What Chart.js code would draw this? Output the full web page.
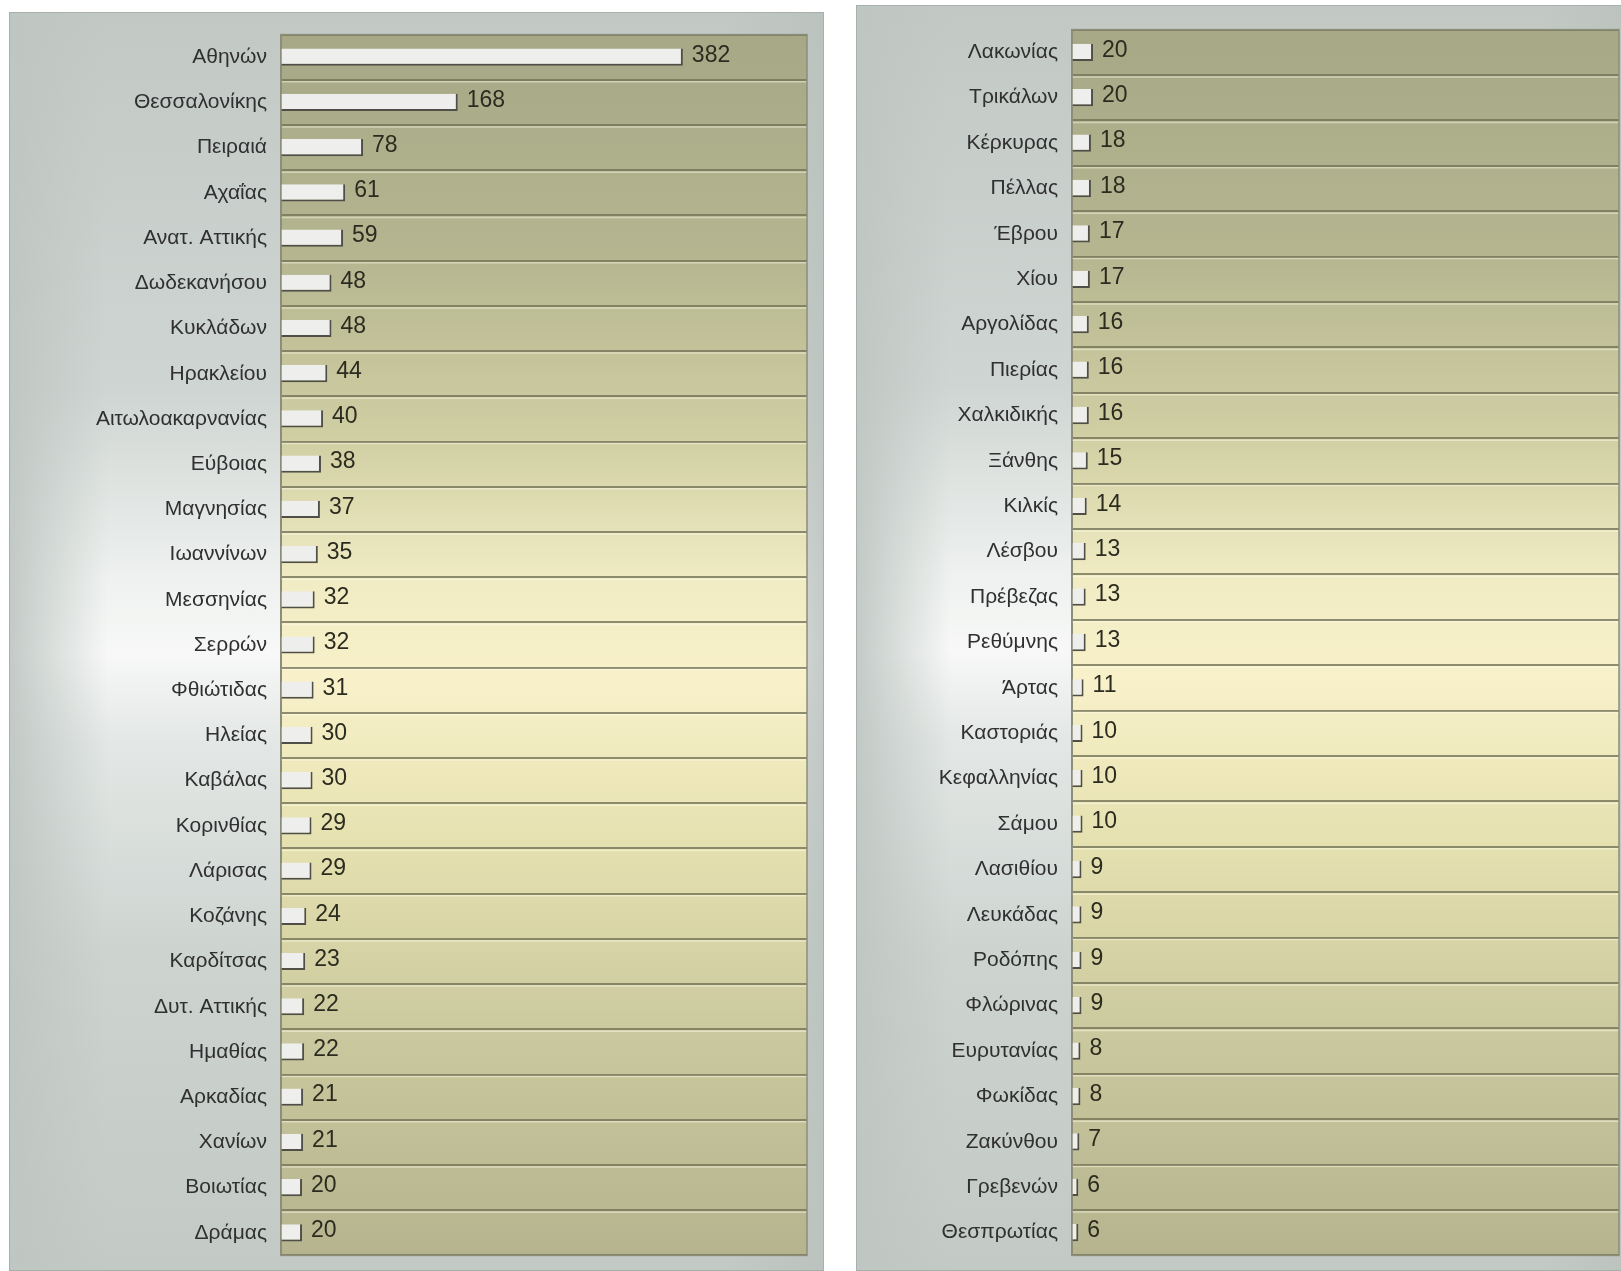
<!DOCTYPE html>
<html>
<head>
<meta charset="utf-8">
<script src="https://cdn.jsdelivr.net/npm/chart.js@4.4.1/dist/chart.umd.min.js"></script>
<style>
  html, body { margin: 0; padding: 0; background: #fff; overflow: hidden; }
  body { width: 1621px; height: 1271px; position: relative; }
  .panel {
    position: absolute;
    border: 1px solid #a9b0ac;
    box-sizing: border-box;
    background:
      linear-gradient(to right, rgba(190,198,194,0.9) 0%, rgba(190,198,194,0) 12%, rgba(190,198,194,0) 88%, rgba(185,193,189,0.8) 100%),
      linear-gradient(to bottom, #c2c9c5 0%, #cfd5d2 30%, #eef1ef 45%, #f7f8f7 51%, #e3e7e5 58%, #cdd4d0 75%, #c3cac6 100%);
  }
  #p1 { left: 9px; top: 12px; width: 815px; height: 1259px; }
  #p2 { left: 856px; top: 5px; width: 780px; height: 1266px; }
  canvas { position: absolute; }
  #c1 { left: 10px; top: 8px; }
  #c2 { left: 857px; top: 3px; }
</style>
</head>
<body>
<div class="panel" id="p1"></div>
<div class="panel" id="p2"></div>
<canvas id="c1" width="813" height="1274"></canvas>
<canvas id="c2" width="764" height="1279"></canvas>
<script>
const leftNames = ["Αθηνών", "Θεσσαλονίκης", "Πειραιά", "Αχαΐας", "Ανατ. Αττικής", "Δωδεκανήσου",
  "Κυκλάδων", "Ηρακλείου", "Αιτωλοακαρνανίας", "Εύβοιας", "Μαγνησίας", "Ιωαννίνων", "Μεσσηνίας",
  "Σερρών", "Φθιώτιδας", "Ηλείας", "Καβάλας", "Κορινθίας", "Λάρισας", "Κοζάνης", "Καρδίτσας",
  "Δυτ. Αττικής", "Ημαθίας", "Αρκαδίας", "Χανίων", "Βοιωτίας", "Δράμας"];
const leftValues = [382, 168, 78, 61, 59, 48, 48, 44, 40, 38, 37, 35, 32, 32, 31, 30, 30, 29, 29,
  24, 23, 22, 22, 21, 21, 20, 20];

const rightNames = ["Λακωνίας", "Τρικάλων", "Κέρκυρας", "Πέλλας", "Έβρου", "Χίου", "Αργολίδας",
  "Πιερίας", "Χαλκιδικής", "Ξάνθης", "Κιλκίς", "Λέσβου", "Πρέβεζας", "Ρεθύμνης", "Άρτας",
  "Καστοριάς", "Κεφαλληνίας", "Σάμου", "Λασιθίου", "Λευκάδας", "Ροδόπης", "Φλώρινας",
  "Ευρυτανίας", "Φωκίδας", "Ζακύνθου", "Γρεβενών", "Θεσπρωτίας"];
const rightValues = [20, 20, 18, 18, 17, 17, 16, 16, 16, 15, 14, 13, 13, 13, 11, 10, 10, 10, 9, 9,
  9, 9, 8, 8, 7, 6, 6];

const FONT = "'Liberation Sans', Arial, sans-serif";

// olive/cream backdrop behind the bars
const plotBack = {
  id: 'plotBack',
  beforeDraw(chart) {
    const { ctx, chartArea: a } = chart;
    const g = ctx.createLinearGradient(0, a.top, 0, a.bottom);
    g.addColorStop(0, '#a6a886');
    g.addColorStop(0.18, '#b5b690');
    g.addColorStop(0.33, '#d0cea3');
    g.addColorStop(0.45, '#f1ecc4');
    g.addColorStop(0.53, '#f8f1ca');
    g.addColorStop(0.66, '#e6e1b0');
    g.addColorStop(0.82, '#cac89e');
    g.addColorStop(1, '#b5b48e');
    ctx.save();
    ctx.fillStyle = g;
    ctx.fillRect(a.left, a.top, a.right - a.left, a.bottom - a.top);
    ctx.restore();
  },
  beforeDatasetsDraw(chart) {
    // light line under each row divider, gives the grooved look
    const { ctx, chartArea: a } = chart;
    const y = chart.scales.y;
    const n = chart.data.labels.length;
    const half = (y.getPixelForValue(1) - y.getPixelForValue(0)) / 2;
    ctx.save();
    ctx.strokeStyle = 'rgba(255,255,235,0.45)';
    ctx.lineWidth = 1.5;
    for (let i = 0; i < n - 1; i++) {
      const py = y.getPixelForValue(i) + half + 2;
      ctx.beginPath();
      ctx.moveTo(a.left, py);
      ctx.lineTo(a.right, py);
      ctx.stroke();
    }
    ctx.restore();
  },
  afterDraw(chart) {
    const { ctx, chartArea: a } = chart;
    ctx.save();
    ctx.strokeStyle = '#8d8e7a';
    ctx.lineWidth = 1.5;
    ctx.strokeRect(a.left, a.top, a.right - a.left, a.bottom - a.top);
    ctx.restore();
  }
};

// numbers at the end of each bar
const valueLabels = {
  id: 'valueLabels',
  afterDatasetsDraw(chart) {
    const ctx = chart.ctx;
    const meta = chart.getDatasetMeta(0);
    const data = chart.data.datasets[0].data;
    ctx.save();
    ctx.font = '23px ' + FONT;
    ctx.fillStyle = '#2b2c1f';
    ctx.textAlign = 'left';
    ctx.textBaseline = 'middle';
    meta.data.forEach((bar, i) => {
      ctx.fillText(data[i], bar.x + 9, bar.y - 2);
    });
    ctx.restore();
  }
};

function makeChart(id, names, values, maxX, axisWidth, padding) {
  const ctx = document.getElementById(id).getContext('2d');
  return new Chart(ctx, {
    type: 'bar',
    data: {
      labels: names,
      datasets: [{
        data: values,
        backgroundColor: '#eeeeec',
        borderColor: '#4f4f48',
        borderWidth: { top: 0, right: 2, bottom: 2, left: 0 },
        borderSkipped: false,
        barPercentage: 0.38,
        categoryPercentage: 1
      }]
    },
    options: {
      indexAxis: 'y',
      responsive: false,
      animation: false,
      layout: { padding: padding },
      plugins: { legend: { display: false }, tooltip: { enabled: false } },
      scales: {
        x: { display: false, min: 0, max: maxX },
        y: {
          afterFit(scale) { scale.width = axisWidth; },
          grid: { color: 'rgba(115,115,88,0.8)', lineWidth: 2, drawTicks: false, offset: true },
          border: { display: true, color: '#8a8b80', width: 2 },
          ticks: { color: '#303030', font: { family: FONT, size: 21 }, padding: 14 }
        }
      }
    },
    plugins: [plotBack, valueLabels]
  });
}

makeChart('c1', leftNames, leftValues, 500, 271, { top: 17, right: 16, bottom: 2, left: 0 });
makeChart('c2', rightNames, rightValues, 520, 215, { top: 21, right: 2, bottom: 2, left: 0 });
</script>
</body>
</html>
